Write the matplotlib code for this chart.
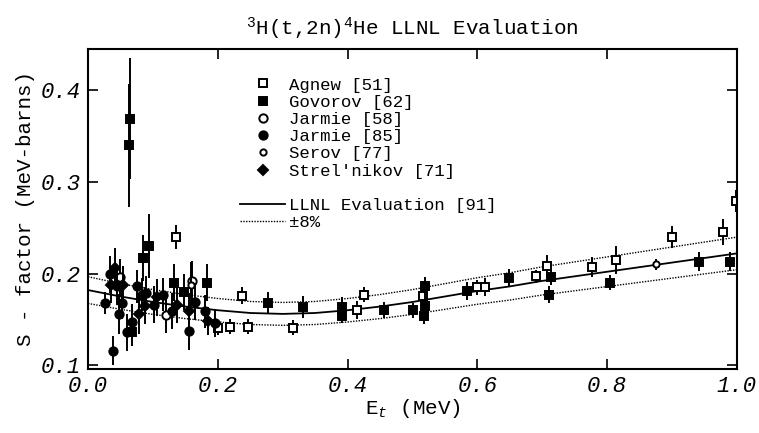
import matplotlib
matplotlib.use("Agg")
import matplotlib.pyplot as plt
import numpy as np

# LLNL evaluation curve
curve_E = [0.0, 0.05, 0.1, 0.15, 0.2, 0.25, 0.3, 0.35, 0.4, 0.45, 0.5,
           0.55, 0.6, 0.65, 0.7, 0.75, 0.8, 0.85, 0.9, 0.95, 1.0]
curve_S = [0.182, 0.175, 0.169, 0.164, 0.160, 0.157, 0.156, 0.157, 0.160, 0.164, 0.169,
           0.175, 0.181, 0.186, 0.192, 0.197, 0.202, 0.207, 0.212, 0.217, 0.222]
band = 0.08

# Agnew [51] - open squares
agnew_E = [0.135, 0.200, 0.219, 0.237, 0.247, 0.316, 0.414, 0.425, 0.516, 0.599, 0.611,
           0.690, 0.707, 0.776, 0.814, 0.900, 0.979, 0.998]
agnew_S = [0.240, 0.141, 0.142, 0.176, 0.142, 0.141, 0.160, 0.177, 0.175, 0.185, 0.185,
           0.197, 0.208, 0.207, 0.215, 0.240, 0.245, 0.279]
agnew_err = [0.013, 0.008, 0.008, 0.009, 0.008, 0.008, 0.010, 0.008, 0.010, 0.008, 0.010,
             0.007, 0.012, 0.011, 0.015, 0.012, 0.014, 0.012]

# Govorov [62] - filled squares
gov_E = [0.065, 0.063, 0.085, 0.094, 0.067, 0.133, 0.148, 0.183, 0.277, 0.331, 0.392, 0.391,
         0.456, 0.501, 0.519, 0.519, 0.518, 0.584, 0.649, 0.713, 0.711, 0.804, 0.942, 0.989]
gov_S = [0.369, 0.340, 0.217, 0.230, 0.136, 0.190, 0.180, 0.190, 0.168, 0.164, 0.164, 0.154,
         0.160, 0.160, 0.186, 0.165, 0.154, 0.181, 0.195, 0.196, 0.177, 0.190, 0.213, 0.213]
gov_err = [0.066, 0.067, 0.025, 0.035, 0.015, 0.020, 0.020, 0.020, 0.012, 0.012, 0.010, 0.008,
           0.009, 0.008, 0.010, 0.010, 0.009, 0.010, 0.010, 0.008, 0.009, 0.008, 0.010, 0.010]

# Jarmie [58] - open circles
j58_E = [0.050, 0.120, 0.160]
j58_S = [0.196, 0.155, 0.192]
j58_err = [0.020, 0.020, 0.022]

# Jarmie [85] - filled circles
j85_E = [0.026, 0.034, 0.039, 0.044, 0.047, 0.052, 0.060, 0.067, 0.075, 0.083, 0.090,
         0.101, 0.116, 0.129, 0.155, 0.165, 0.180, 0.196]
j85_S = [0.168, 0.199, 0.116, 0.186, 0.156, 0.168, 0.136, 0.147, 0.186, 0.177, 0.179,
         0.166, 0.177, 0.159, 0.137, 0.169, 0.159, 0.146]
j85_err = [0.012, 0.020, 0.016, 0.020, 0.022, 0.018, 0.020, 0.020, 0.018, 0.018, 0.018,
           0.020, 0.018, 0.020, 0.020, 0.020, 0.018, 0.015]

# Serov [77] - small open circles
serov_E = [0.158, 0.875]
serov_S = [0.188, 0.210]
serov_err = [0.025, 0.006]

# Strel'nikov [71] - filled diamonds
strel_E = [0.036, 0.042, 0.054, 0.078, 0.088, 0.106, 0.137, 0.155, 0.185]
strel_S = [0.188, 0.206, 0.188, 0.156, 0.165, 0.174, 0.166, 0.159, 0.148]
strel_err = [0.020, 0.022, 0.020, 0.022, 0.020, 0.020, 0.020, 0.020, 0.015]

plt.rcParams['font.family'] = ['Liberation Mono', 'DejaVu Sans Mono']
plt.rcParams['mathtext.fontset'] = 'custom'
plt.rcParams['mathtext.rm'] = 'Liberation Mono'
plt.rcParams['mathtext.it'] = 'Liberation Mono:italic'

fig = plt.figure(figsize=(7.59, 4.33), dpi=100)
ax = fig.add_axes([0.116, 0.148, 0.855, 0.739])

cE = np.array(curve_E)
cS = np.array(curve_S)
ax.plot(cE, cS, color='black', lw=1.3, label='LLNL Evaluation [91]')
ax.plot(cE, cS * (1 + band), color='black', lw=1.0, ls=(0, (1, 1)), label='\u00b18%')
ax.plot(cE, cS * (1 - band), color='black', lw=1.0, ls=(0, (1, 1)))

sets = [
    (agnew_E, agnew_S, agnew_err, 's', 'white', 6, 'Agnew [51]'),
    (gov_E, gov_S, gov_err, 's', 'black', 6, 'Govorov [62]'),
    (j58_E, j58_S, j58_err, 'o', 'white', 6, 'Jarmie [58]'),
    (j85_E, j85_S, j85_err, 'o', 'black', 6, 'Jarmie [85]'),
    (serov_E, serov_S, serov_err, 'o', 'white', 4.5, 'Serov [77]'),
    (strel_E, strel_S, strel_err, 'D', 'black', 5, "Strel'nikov [71]"),
]
marker_handles = []
for E, S, err, m, fc, ms, lab in sets:
    ax.errorbar(E, S, yerr=err, fmt='none', ecolor='black', elinewidth=1.4, capsize=0)
    ax.plot(E, S, ls='none', marker=m, mfc=fc, mec='black', mew=1.4, ms=ms)
    h, = ax.plot([], [], ls='none', marker=m, mfc=fc, mec='black', mew=1.4, ms=ms, label=lab)
    marker_handles.append(h)

line_handles = ax.get_lines()[:2]
blank, = ax.plot([], [], ls='none', label=' ')
handles = marker_handles + [blank] + list(line_handles)
labels = [h.get_label() for h in handles]
ax.legend(handles, labels, loc='upper left', bbox_to_anchor=(0.21, 0.96), frameon=False,
          fontsize=12.5, handlelength=2.6, handletextpad=0.25, labelspacing=0.12, numpoints=1)

ax.set_xlim(0.0, 1.0)
ax.set_ylim(0.096, 0.445)
ax.set_xticks([0.0, 0.2, 0.4, 0.6, 0.8, 1.0])
ax.set_xticklabels(['0.0', '0.2', '0.4', '0.6', '0.8', '1.0'], style='italic')
ax.set_yticks([0.1, 0.2, 0.3, 0.4])
ax.set_yticklabels(['0.1', '0.2', '0.3', '0.4'], style='italic')
ax.tick_params(direction='in', length=7, width=1.2, top=True, right=True, labelsize=16, pad=5)
for s in ax.spines.values():
    s.set_linewidth(1.5)

ax.set_xlabel('E$_t$ (MeV)', fontsize=15, labelpad=0)
ax.set_ylabel('S - factor (MeV-barns)', fontsize=15, labelpad=4)
ax.set_title('$^3$H(t,2n)$^4$He LLNL Evaluation', fontsize=15, pad=10)

fig.savefig('out.png', dpi=100)
